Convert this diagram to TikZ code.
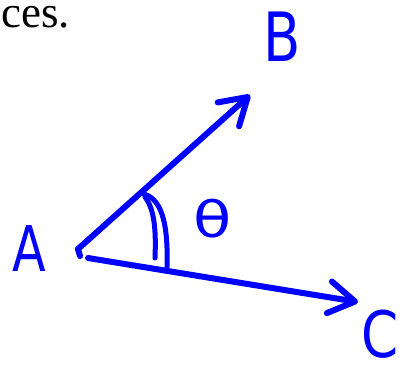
\documentclass[tikz,border=0pt]{standalone}
\usepackage{fontspec}
\setmainfont{Liberation Serif}
\newfontfamily\handfont{DejaVu Sans}
\usetikzlibrary{arrows.meta}

\tikzset{
  pen/.style={line width=6pt, blue, line cap=round, line join=round},
  letter/.style={blue, inner sep=0pt},
}

\begin{document}
\begin{tikzpicture}[x=1pt, y=-1pt, >={Straight Barb[length=26pt, width=32pt, round]}]
  \useasboundingbox (0,0) rectangle (407,366);
  \node [anchor=base west, inner sep=0pt, font=\fontsize{45}{45}\selectfont] (txt) at (1,28) {ces.};

  \coordinate (O) at (78,249);
  \coordinate (O2) at (88,258);
  \coordinate (tipB) at (250,95);
  \coordinate (tipC) at (358,302);

  \draw [pen,->] (O) -- (tipB);
  \draw [pen] (O) -- ++(2,7);
  \draw [pen,->] (O2) -- (tipC);

  % angle mark
  \draw [pen, line width=5pt] (145,197) .. controls (155,210) and (156,232) .. (155,258);
  \draw [pen, line width=5pt] (144,194) .. controls (164,200) and (168,230) .. (167,267);

  \node [letter, left of=O, node distance=49pt, font=\handfont\fontsize{63}{63}\selectfont] (A) {\scalebox{0.78}[1]{A}};
  \node [letter, font=\handfont\fontsize{68}{68}\selectfont] (B) at (282,37) {\scalebox{0.8}[1]{B}};
  \node [letter, font=\handfont\fontsize{64}{64}\selectfont] (C) at (380,334) {\scalebox{0.83}[1]{C}};
  \node [letter, font=\handfont\fontsize{50}{50}\selectfont] (theta) at (213,219) {\scalebox{1.25}[1]{θ}};
\end{tikzpicture}
\end{document}
